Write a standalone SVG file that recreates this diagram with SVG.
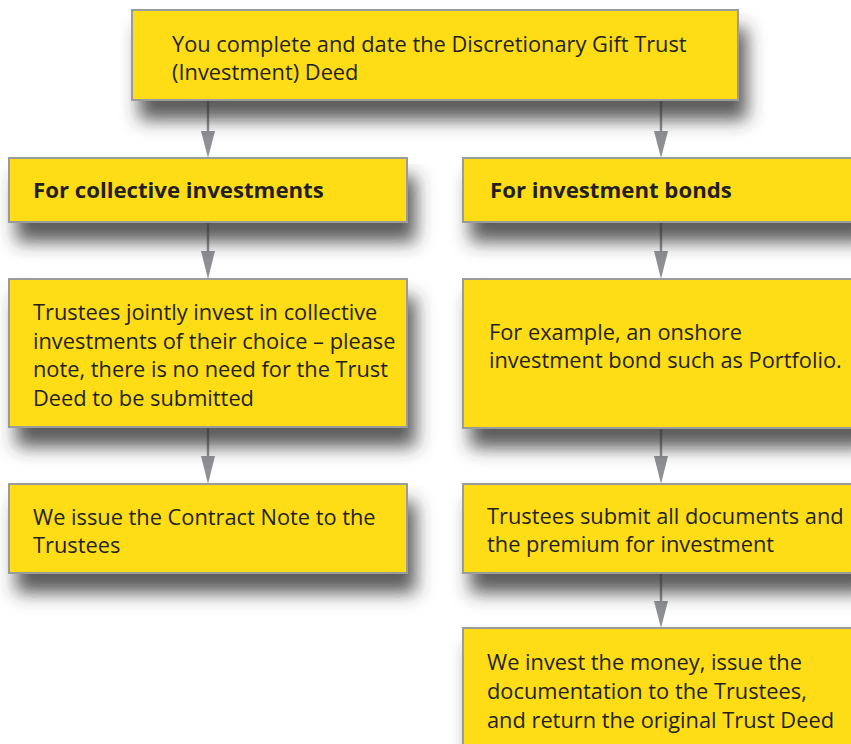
<svg xmlns="http://www.w3.org/2000/svg" width="851" height="744" viewBox="0 0 851 744">
<defs>
<filter id="sh" x="-10%" y="-20%" width="130%" height="200%">
<feGaussianBlur in="SourceAlpha" stdDeviation="9"/>
<feOffset dx="8" dy="19" result="b"/>
<feFlood flood-color="#333333" flood-opacity="0.8"/>
<feComposite in2="b" operator="in"/>
<feMerge><feMergeNode/><feMergeNode in="SourceGraphic"/></feMerge>
</filter>
</defs>
<style>
.box{fill:#fedd17;stroke:#9a9b9d;stroke-width:2}
.t{font-family:"Open Sans","Noto Sans",sans-serif;font-size:21.8px;fill:#231f20}
.b{font-family:"Open Sans","Noto Sans",sans-serif;font-size:22.2px;font-weight:bold;fill:#231f20}
.ln{stroke:#8e9094;stroke-width:2.5}
.hd{fill:#8e9094}
</style>
<rect width="851" height="744" fill="#ffffff"/>
<g id="connectors">
<line class="ln" x1="208" y1="100" x2="208" y2="135"/><polygon class="hd" points="201,131 215,131 208,158"/>
<line class="ln" x1="661" y1="100" x2="661" y2="135"/><polygon class="hd" points="654,131 668,131 661,158"/>
<line class="ln" x1="208" y1="222" x2="208" y2="255"/><polygon class="hd" points="201,251 215,251 208,279"/>
<line class="ln" x1="661" y1="222" x2="661" y2="255"/><polygon class="hd" points="654,251 668,251 661,279"/>
<line class="ln" x1="208" y1="427" x2="208" y2="460"/><polygon class="hd" points="201,456 215,456 208,484"/>
<line class="ln" x1="661" y1="428" x2="661" y2="460"/><polygon class="hd" points="654,456 668,456 661,484"/>
<line class="ln" x1="661" y1="573" x2="661" y2="605"/><polygon class="hd" points="654,601 668,601 661,628"/>
</g>
<g id="n1"><rect class="box" x="132" y="10" width="606" height="90" filter="url(#sh)"/>
<text class="t" x="172" y="52">You complete and date the Discretionary Gift Trust</text>
<text class="t" x="172" y="80">(Investment) Deed</text></g>
<g id="n2"><rect class="box" x="9" y="158" width="398" height="64" filter="url(#sh)"/>
<text class="b" x="33" y="198">For collective investments</text></g>
<g id="n3"><rect class="box" x="463" y="158" width="400" height="64" filter="url(#sh)"/>
<text class="b" x="490" y="198">For investment bonds</text></g>
<g id="n4"><rect class="box" x="9" y="279" width="398" height="148" filter="url(#sh)"/>
<text class="t" x="33" y="320">Trustees jointly invest in collective</text>
<text class="t" x="33" y="349">investments of their choice – please</text>
<text class="t" x="33" y="377">note, there is no need for the Trust</text>
<text class="t" x="33" y="406">Deed to be submitted</text></g>
<g id="n5"><rect class="box" x="463" y="279" width="400" height="149" filter="url(#sh)"/>
<text class="t" x="489" y="340">For example, an onshore</text>
<text class="t" x="489" y="368">investment bond such as Portfolio.</text></g>
<g id="n6"><rect class="box" x="9" y="484" width="398" height="89" filter="url(#sh)"/>
<text class="t" x="33" y="525">We issue the Contract Note to the</text>
<text class="t" x="33" y="553">Trustees</text></g>
<g id="n7"><rect class="box" x="463" y="484" width="400" height="89" filter="url(#sh)"/>
<text class="t" x="487" y="524">Trustees submit all documents and</text>
<text class="t" x="487" y="552">the premium for investment</text></g>
<g id="n8"><rect class="box" x="463" y="628" width="400" height="130" filter="url(#sh)"/>
<text class="t" x="487" y="670">We invest the money, issue the</text>
<text class="t" x="487" y="699">documentation to the Trustees,</text>
<text class="t" x="487" y="728">and return the original Trust Deed</text></g>
</svg>
